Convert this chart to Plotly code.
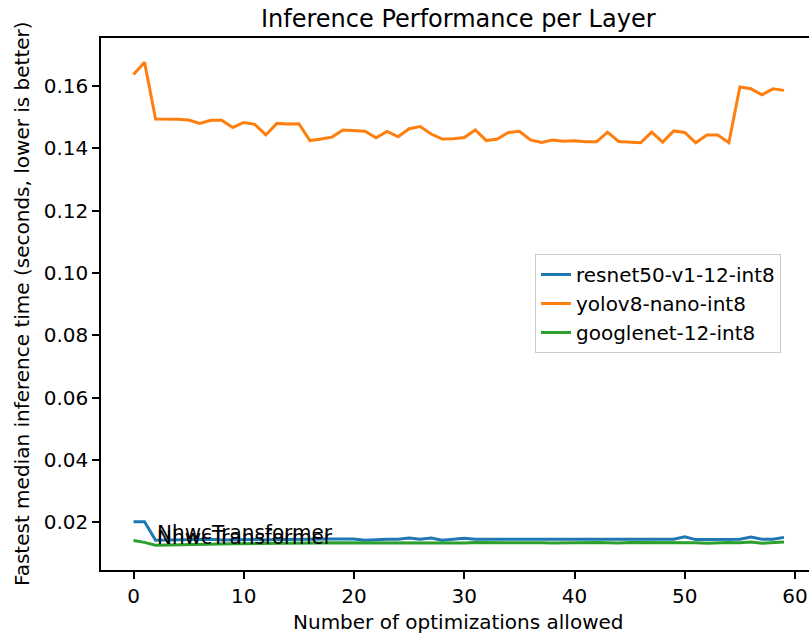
import plotly.graph_objects as go

x_vals = list(range(60))

resnet = [0.0202, 0.0202, 0.0143, 0.0144, 0.0143, 0.0144, 0.0145, 0.0146, 0.0144, 0.0145,
          0.0146, 0.0145, 0.0144, 0.0146, 0.0145, 0.0146, 0.0145, 0.0146, 0.0147, 0.0147,
          0.0147, 0.0143, 0.0145, 0.0146, 0.0146, 0.0150, 0.0146, 0.0150, 0.0143, 0.0145,
          0.0149, 0.0146, 0.0146, 0.0146, 0.0145, 0.0145, 0.0147, 0.0146, 0.0145, 0.0145,
          0.0147, 0.0147, 0.0146, 0.0146, 0.0145, 0.0145, 0.0146, 0.0146, 0.0146, 0.0146,
          0.0154, 0.0145, 0.0145, 0.0146, 0.0146, 0.0146, 0.0153, 0.0146, 0.0146, 0.0152]

yolo = [0.1637, 0.1676, 0.1494, 0.1494, 0.1493, 0.1491, 0.1480, 0.1490, 0.1490, 0.1467,
        0.1483, 0.1477, 0.1443, 0.1480, 0.1478, 0.1479, 0.1425, 0.1430, 0.1436, 0.1459,
        0.1456, 0.1455, 0.1434, 0.1454, 0.1437, 0.1463, 0.1470, 0.1446, 0.1430, 0.1431,
        0.1435, 0.1459, 0.1425, 0.1430, 0.1451, 0.1455, 0.1427, 0.1419, 0.1427, 0.1423,
        0.1424, 0.1421, 0.1421, 0.1452, 0.1422, 0.1421, 0.1418, 0.1452, 0.1420, 0.1456,
        0.1451, 0.1418, 0.1443, 0.1443, 0.1418, 0.1597, 0.1591, 0.1572, 0.1591, 0.1586]

googlenet = [0.0142, 0.0136, 0.0127, 0.0128, 0.0129, 0.0129, 0.0130, 0.0131, 0.0131, 0.0132,
             0.0132, 0.0132, 0.0133, 0.0133, 0.0133, 0.0134, 0.0134, 0.0134, 0.0135, 0.0135,
             0.0135, 0.0133, 0.0133, 0.0134, 0.0134, 0.0134, 0.0134, 0.0133, 0.0135, 0.0135,
             0.0134, 0.0136, 0.0135, 0.0134, 0.0135, 0.0135, 0.0136, 0.0135, 0.0134, 0.0135,
             0.0136, 0.0136, 0.0136, 0.0135, 0.0134, 0.0136, 0.0136, 0.0135, 0.0136, 0.0136,
             0.0135, 0.0135, 0.0133, 0.0135, 0.0136, 0.0135, 0.0137, 0.0133, 0.0134, 0.0137]

series_names = ["resnet50-v1-12-int8", "yolov8-nano-int8", "googlenet-12-int8"]
colors = ["#1f77b4", "#ff7f0e", "#2ca02c"]
x_ticks = [0, 10, 20, 30, 40, 50, 60]
y_ticks = [0.02, 0.04, 0.06, 0.08, 0.10, 0.12, 0.14, 0.16]
y_tick_text = ["0.02", "0.04", "0.06", "0.08", "0.10", "0.12", "0.14", "0.16"]
annot_label = "NhwcTransformer"
annot_x = 2

FONT = "DejaVu Sans"
FS = 20

fig = go.Figure()
for name, ys, c in zip(series_names, [resnet, yolo, googlenet], colors):
    fig.add_trace(go.Scatter(x=x_vals, y=ys, mode="lines", name=name,
                             line=dict(color=c, width=3)))

W, H = 809, 635
L, R, T, B = 101, 0, 38, 65
pw = W - L - R
ph = H - T - B

annotations = []
for ys in [resnet, googlenet]:
    annotations.append(dict(x=annot_x, y=ys[annot_x], xref="x", yref="y", text=annot_label,
                            showarrow=False, xanchor="left", yanchor="bottom", yshift=-6,
                            xshift=-1, font=dict(family=FONT, size=FS, color="black")))
# title
annotations.append(dict(x=(458 - L) / pw, y=1 + (T - 19) / ph, xref="paper", yref="paper",
                        text="Inference Performance per Layer", showarrow=False,
                        xanchor="center", yanchor="middle",
                        font=dict(family=FONT, size=24, color="black")))
# x title
annotations.append(dict(x=(458 - L) / pw, y=-(622 - (H - B)) / ph, xref="paper", yref="paper",
                        text="Number of optimizations allowed", showarrow=False,
                        xanchor="center", yanchor="middle",
                        font=dict(family=FONT, size=FS, color="black")))
# y title
annotations.append(dict(x=-(L - 22) / pw, y=0.5, xref="paper", yref="paper",
                        text="Fastest median inference time (seconds, lower is better)",
                        showarrow=False, textangle=-90, xanchor="center", yanchor="middle",
                        font=dict(family=FONT, size=FS, color="black")))

fig.update_layout(
    width=W, height=H,
    margin=dict(l=L, r=R, t=T, b=B, pad=0),
    paper_bgcolor="white", plot_bgcolor="white",
    font=dict(family=FONT, size=FS, color="black"),
    showlegend=True,
    legend=dict(x=(535 - L) / pw, y=(H - B - 254) / ph, xanchor="left", yanchor="top",
                bgcolor="rgba(255,255,255,0.8)", bordercolor="#cccccc", borderwidth=1,
                font=dict(family=FONT, size=FS, color="black")),
    annotations=annotations,
)
fig.update_xaxes(range=[-2.95, (W - 133.5) / 11.025], tickvals=x_ticks,
                 ticks="outside", ticklen=7, tickwidth=1.6, tickcolor="black",
                 showline=True, linecolor="black", linewidth=1.6, mirror=True,
                 showgrid=False, zeroline=False,
                 tickfont=dict(family=FONT, size=FS, color="black"))
fig.update_yaxes(range=[0.00474, 0.1754], tickvals=y_ticks, ticktext=y_tick_text,
                 ticks="outside", ticklen=7, tickwidth=1.6, tickcolor="black",
                 showline=True, linecolor="black", linewidth=1.6, mirror=False,
                 showgrid=False, zeroline=False,
                 tickfont=dict(family=FONT, size=FS, color="black"))

fig.write_html("out.html", config={"displayModeBar": False},
               post_script="document.body.style.margin='0';document.body.style.padding='0';"
                           "document.body.style.overflow='hidden';")
